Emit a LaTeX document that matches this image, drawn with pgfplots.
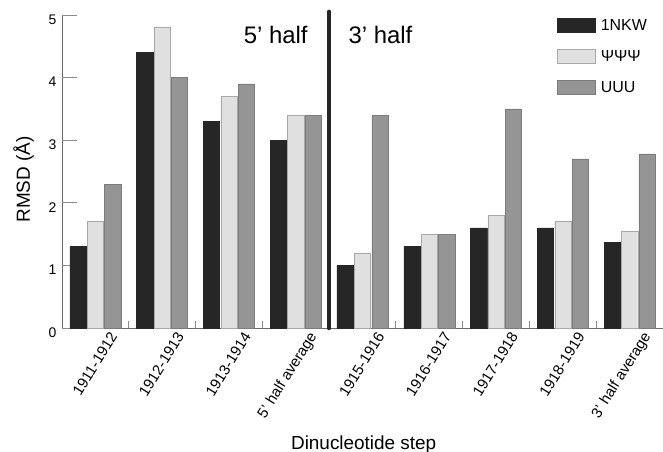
\documentclass[border=0pt]{standalone}
\usepackage{pgfplots}
\usepackage{pgfplotstable}
\pgfplotsset{compat=1.18}
\usepackage{fontspec}
\setmainfont{Liberation Sans}
\definecolor{cdark}{HTML}{262626}
\definecolor{clight}{HTML}{E0E0E0}
\definecolor{clightedge}{HTML}{A8A8A8}
\definecolor{cmid}{HTML}{959595}
\definecolor{cmidedge}{HTML}{7C7C7C}
\definecolor{caxis}{HTML}{6A6A6A}
\definecolor{ctick}{HTML}{8C8C8C}
\pgfplotstableread{
x a b c
0 1.3 1.7 2.3
1 4.4 4.8 4.0
2 3.3 3.7 3.9
3 3.0 3.4 3.4
4 1.0 1.2 3.4
5 1.3 1.5 1.5
6 1.6 1.8 3.5
7 1.6 1.7 2.7
8 1.37 1.55 2.78
}\datatable
\begin{document}
\begin{tikzpicture}
\path[use as bounding box] (-62bp,-124bp) rectangle (601bp,328bp);
\begin{axis}[
  at={(0,0)}, anchor=south west,
  scale only axis, width=601bp, height=313bp,
  xmin=-0.5, xmax=8.5, ymin=0, ymax=5,
  ybar=1.2bp, bar width=16.2bp,
  axis x line*=bottom, axis y line*=left,
  axis line style={caxis, line width=0.8bp},
  tick style={ctick, line width=0.8bp},
  tick align=inside,
  major tick length=7bp,
  xtick={0.5,1.5,...,7.5}, xticklabels={},
  extra x ticks={0,1,...,8},
  extra x tick labels={1911-1912,1912-1913,1913-1914,5' half average,1915-1916,1916-1917,1917-1918,1918-1919,3' half average},
  extra x tick style={major tick length=0pt, tick style={draw=none},
    tick label style={xshift=20bp, yshift=-3bp, rotate=58, anchor=east, font=\fontsize{15}{17}\selectfont}},
  ytick=\empty,
  extra y ticks={0,1,2,3,4,5},
  extra y tick style={major tick length=15bp,
    tick label style={font=\fontsize{14}{16}\selectfont, yshift=-4.5bp, xshift=-2bp}},
  /pgf/number format/assume math mode=true,
  clip=false,
  xlabel={Dinucleotide step},
  xlabel style={at={(axis description cs:0.502,-0.387)}, anchor=base, font=\fontsize{19}{22}\selectfont},
  ylabel={RMSD (Å)},
  ylabel style={at={(axis description cs:-0.0640,0.475)}, anchor=center, font=\fontsize{19}{22}\selectfont},
  legend style={at={(axis description cs:0.824,0.99)}, anchor=north west, draw=none, fill=none,
    inner sep=0pt, row sep=16.5bp, column sep=4bp, font=\fontsize{16}{18}\selectfont,
    nodes={inner sep=1bp}},
  legend cell align=left,
]
\addplot[fill=cdark, draw=cdark, legend image code/.code={\draw[fill=cdark,draw=cdark] (0bp,-7bp) rectangle (38bp,7bp);}] table[x=x,y=a]{\datatable};
\addlegendentry{1NKW}
\addplot[fill=clight, draw=clightedge, legend image code/.code={\draw[fill=clight,draw=clightedge] (0bp,-7bp) rectangle (38bp,7bp);}] table[x=x,y=b]{\datatable};
\addlegendentry{ΨΨΨ}
\addplot[fill=cmid, draw=cmidedge, legend image code/.code={\draw[fill=cmid,draw=cmidedge] (0bp,-7bp) rectangle (38bp,7bp);}] table[x=x,y=c]{\datatable};
\addlegendentry{UUU}
\addplot[sharp plot, forget plot, draw=cdark, line width=4.5bp, line cap=round, mark=none] coordinates {(3.5,0) (3.5,5.05)};
\node[anchor=base, font=\fontsize{24}{28}\selectfont] at (axis cs:2.70,4.55) {5' half};
\node[anchor=base, font=\fontsize{24}{28}\selectfont] at (axis cs:4.27,4.55) {3' half};
\end{axis}
\end{tikzpicture}
\end{document}
